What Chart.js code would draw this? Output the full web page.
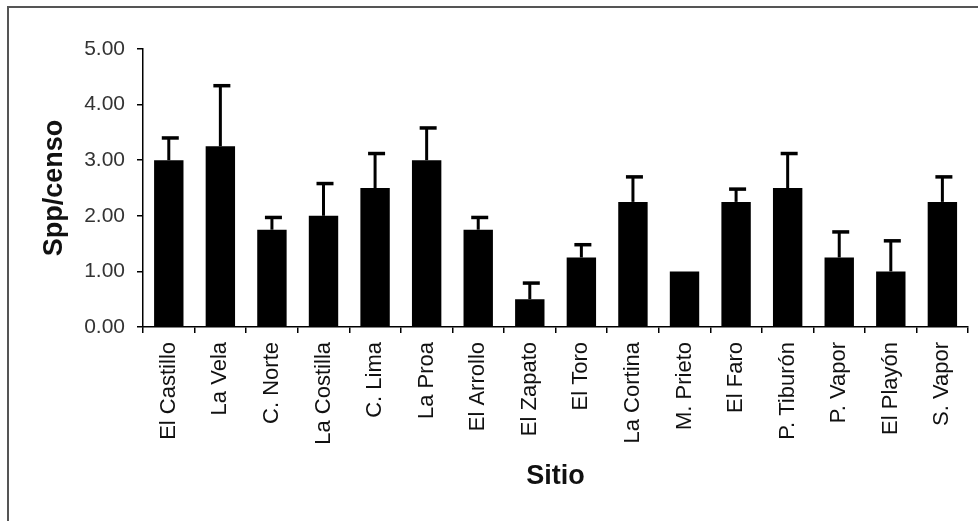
<!DOCTYPE html>
<html>
<head>
<meta charset="utf-8">
<script src="https://cdn.jsdelivr.net/npm/chart.js@4"></script>
<style>
  html, body { margin: 0; padding: 0; background: #fff; }
  #wrap { position: relative; width: 978px; height: 521px; }
  #frame { position: absolute; left: 7px; top: 6px; right: 0; bottom: 0;
           border-top: 2px solid #555; border-left: 2px solid #555; pointer-events: none; }
  canvas { position: absolute; left: 0; top: 0; }
</style>
</head>
<body>
<div id="wrap">
  <canvas id="c" width="978" height="521"></canvas>
  <div id="frame"></div>
</div>
<script>
const sites = ['El Castillo','La Vela','C. Norte','La Costilla','C. Lima','La Proa','El Arrollo','El Zapato','El Toro','La Cortina','M. Prieto','El Faro','P. Tiburón','P. Vapor','El Playón','S. Vapor'];
const meanSpp = [3.00, 3.25, 1.75, 2.00, 2.50, 3.00, 1.75, 0.50, 1.25, 2.25, 1.00, 2.25, 2.50, 1.25, 1.00, 2.25];
const errSpp  = [0.40, 1.09, 0.22, 0.58, 0.62, 0.58, 0.22, 0.29, 0.23, 0.45, 0.00, 0.23, 0.62, 0.46, 0.55, 0.45];
const yTicks = [0, 1, 2, 3, 4, 5];

const errorBars = {
  id: 'errorBars',
  afterDatasetsDraw(chart) {
    const ctx = chart.ctx;
    const meta = chart.getDatasetMeta(0);
    const y = chart.scales.y;
    ctx.save();
    ctx.strokeStyle = '#000';
    meta.data.forEach((bar, i) => {
      const e = errSpp[i];
      if (!e) return;
      const top = y.getPixelForValue(meanSpp[i] + e);
      ctx.lineWidth = 3;
      ctx.beginPath();
      ctx.moveTo(bar.x, bar.y);
      ctx.lineTo(bar.x, top);
      ctx.stroke();
      ctx.lineWidth = 3.5;
      ctx.beginPath();
      ctx.moveTo(bar.x - 7, top);
      ctx.lineTo(bar.x + 10, top);
      ctx.stroke();
    });
    ctx.restore();
  }
};

new Chart(document.getElementById('c'), {
  type: 'bar',
  data: {
    labels: sites,
    datasets: [{
      data: meanSpp,
      backgroundColor: '#000',
      borderWidth: 0,
      barPercentage: 0.57,
      categoryPercentage: 1.0
    }]
  },
  options: {
    responsive: false,
    animation: false,
    events: [],
    layout: { padding: { top: 49, right: 7, bottom: 0, left: 0 } },
    plugins: { legend: { display: false }, tooltip: { enabled: false } },
    scales: {
      x: {
        grid: { display: true, drawOnChartArea: false, drawTicks: true, tickLength: 6, color: '#000', lineWidth: 1.5, offset: true },
        border: { display: true, color: '#000', width: 1.5 },
        ticks: {
          color: '#111', font: { family: 'Liberation Sans', size: 22 },
          maxRotation: 90, minRotation: 90, padding: 9, autoSkip: false
        },
        title: { display: true, text: 'Sitio', color: '#111',
                 font: { family: 'Liberation Sans', size: 27, weight: 'bold' },
                 padding: { top: 0, bottom: 28 } },
        afterFit(scale) { scale.height = 194; }
      },
      y: {
        min: 0, max: 5,
        afterBuildTicks(scale) { scale.ticks = yTicks.map(v => ({ value: v })); },
        grid: { display: true, drawOnChartArea: false, drawTicks: true, tickLength: 6, color: '#000', lineWidth: 1.5 },
        border: { display: true, color: '#000', width: 1.5 },
        ticks: {
          color: '#333', font: { family: 'Liberation Sans', size: 21 }, padding: 12,
          callback: (v) => Number(v).toFixed(2)
        },
        title: { display: true, text: 'Spp/censo', color: '#111',
                 font: { family: 'Liberation Sans', size: 27, weight: 'bold' },
                 padding: { top: 38, bottom: 0 } },
        afterFit(scale) { scale.width = 143; }
      }
    }
  },
  plugins: [errorBars]
});
</script>
</body>
</html>
